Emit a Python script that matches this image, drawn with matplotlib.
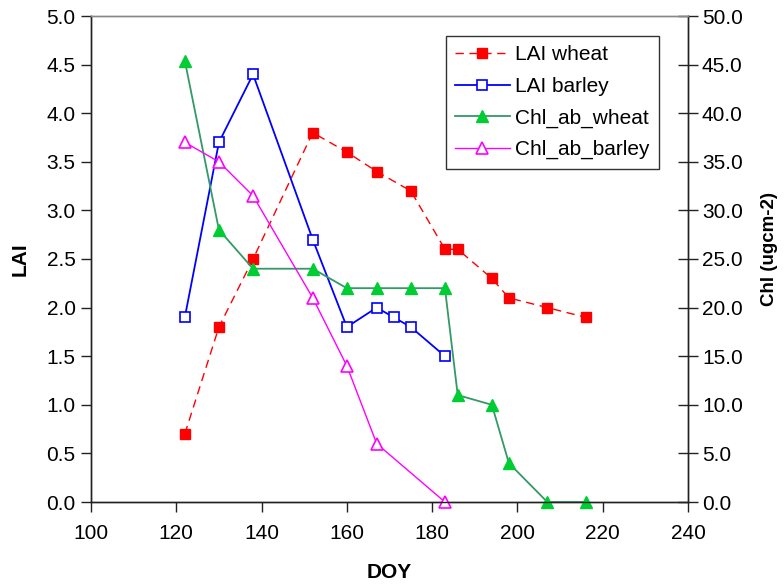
import matplotlib
matplotlib.use("Agg")
import matplotlib.pyplot as plt

plt.rcParams['font.family'] = ['Liberation Sans', 'DejaVu Sans']

# Data
doy_lai_wheat = [122, 130, 138, 152, 160, 167, 175, 183, 186, 194, 198, 207, 216]
lai_wheat = [0.7, 1.8, 2.5, 3.8, 3.6, 3.4, 3.2, 2.6, 2.6, 2.3, 2.1, 2.0, 1.9]

doy_lai_barley = [122, 130, 138, 152, 160, 167, 171, 175, 183]
lai_barley = [1.9, 3.7, 4.4, 2.7, 1.8, 2.0, 1.9, 1.8, 1.5]

doy_chl_wheat = [122, 130, 138, 152, 160, 167, 175, 183, 186, 194, 198, 207, 216]
chl_wheat = [45.4, 28.0, 24.0, 24.0, 22.0, 22.0, 22.0, 22.0, 11.0, 10.0, 4.0, 0.0, 0.0]

doy_chl_barley = [122, 130, 138, 152, 160, 167, 183]
chl_barley = [37.0, 35.0, 31.5, 21.0, 14.0, 6.0, 0.0]

x_ticks = [100, 120, 140, 160, 180, 200, 220, 240]
lai_ticks = [0.0, 0.5, 1.0, 1.5, 2.0, 2.5, 3.0, 3.5, 4.0, 4.5, 5.0]
chl_ticks = [0, 5, 10, 15, 20, 25, 30, 35, 40, 45, 50]

W, H = 784, 587
fig = plt.figure(figsize=(W / 100, H / 100), dpi=100)
L, R, T, B = 91, 688, 16, 502
ax = fig.add_axes([L / W, 1 - B / H, (R - L) / W, (B - T) / H])
ax2 = ax.twinx()

fs = 15
red = '#FF0000'
blue = '#0000FF'
green_line = '#339966'
green_fill = '#00CC33'
magenta = '#FF00FF'

l1, = ax.plot(doy_lai_wheat, lai_wheat, color=red, ls=(0, (6, 4)), lw=1.0,
              marker='s', ms=6.5, mfc=red, mec=red, label='LAI wheat', clip_on=False)
l2, = ax.plot(doy_lai_barley, lai_barley, color=blue, lw=1.3,
              marker='s', ms=6.5, mfc='white', mec=blue, mew=1.2, label='LAI barley', clip_on=False)
l3, = ax2.plot(doy_chl_wheat, chl_wheat, color=green_line, lw=1.3,
               marker='^', ms=8, mfc=green_fill, mec=green_fill, label='Chl_ab_wheat', clip_on=False)
l4, = ax2.plot(doy_chl_barley, chl_barley, color=magenta, lw=1.0,
               marker='^', ms=8, mfc='white', mec=magenta, mew=1.2, label='Chl_ab_barley', clip_on=False)

ax.set_xlim(100, 240)
ax.set_ylim(0, 5)
ax2.set_ylim(0, 50)
ax.set_xticks(x_ticks)
ax.set_yticks(lai_ticks)
ax.set_yticklabels([f'{v:.1f}' for v in lai_ticks])
ax2.set_yticks(chl_ticks)
ax2.set_yticklabels([f'{v:.1f}' for v in chl_ticks])

for a in (ax, ax2):
    a.set_facecolor('none')
    for s in a.spines.values():
        s.set_linewidth(1.0)
        s.set_color('#222222')
    a.spines['top'].set_color('#888888')

ax.tick_params(axis='x', direction='out', length=7, width=1, labelsize=fs, pad=9, colors='#222222', labelcolor='black')
ax.tick_params(axis='y', direction='out', length=7, width=1, labelsize=fs, pad=4, colors='#222222', labelcolor='black')
ax2.tick_params(axis='y', direction='inout', length=14, width=1, labelsize=fs, pad=3, colors='#222222', labelcolor='black')

ax.set_xlabel('DOY', fontsize=fs, fontweight='bold', labelpad=14)
ax.set_ylabel('LAI', fontsize=fs, fontweight='bold', labelpad=12)
ax2.set_ylabel('Chl (ugcm-2)', fontsize=13.5, fontweight='bold')
ax2.yaxis.set_label_coords((761 - L) / (R - L), (B - 249) / (B - T))

leg = ax2.legend(handles=[l1, l2, l3, l4], loc='upper left',
                 bbox_to_anchor=(446 / W, 1 - 36 / H), bbox_transform=fig.transFigure,
                 fontsize=fs, frameon=True, fancybox=False, shadow=False,
                 handlelength=2.6, handletextpad=0.25, labelspacing=0.6,
                 borderpad=0.45, borderaxespad=0, numpoints=1)
leg.get_frame().set_edgecolor('black')
leg.get_frame().set_linewidth(1.0)

fig.savefig('out.png', dpi=100)
